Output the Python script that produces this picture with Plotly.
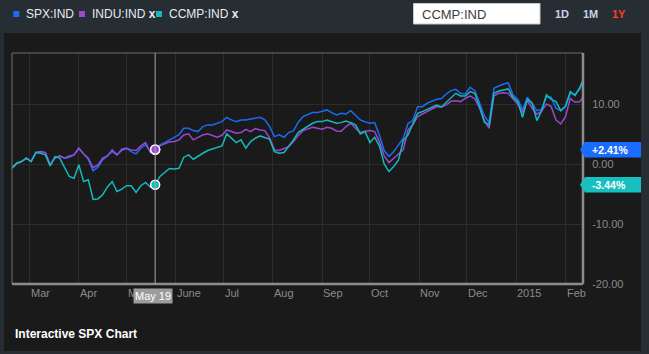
import plotly.graph_objects as go

# ---------------- data ----------------
dates = [
    "2014-02-18", "2014-02-21", "2014-02-24", "2014-02-27", "2014-03-02", "2014-03-05", "2014-03-08",
    "2014-03-11", "2014-03-14", "2014-03-17", "2014-03-20", "2014-03-23", "2014-03-26", "2014-03-29",
    "2014-04-01", "2014-04-04", "2014-04-07", "2014-04-10", "2014-04-13", "2014-04-16", "2014-04-19",
    "2014-04-22", "2014-04-25", "2014-04-28", "2014-05-01", "2014-05-04", "2014-05-07", "2014-05-10",
    "2014-05-13", "2014-05-16", "2014-05-19", "2014-05-22", "2014-05-25", "2014-05-28", "2014-05-31",
    "2014-06-03", "2014-06-06", "2014-06-09", "2014-06-12", "2014-06-15", "2014-06-18", "2014-06-21",
    "2014-06-24", "2014-06-27", "2014-06-30", "2014-07-03", "2014-07-06", "2014-07-09", "2014-07-12",
    "2014-07-15", "2014-07-18", "2014-07-21", "2014-07-24", "2014-07-27", "2014-07-30", "2014-08-02",
    "2014-08-05", "2014-08-08", "2014-08-11", "2014-08-14", "2014-08-17", "2014-08-20", "2014-08-23",
    "2014-08-26", "2014-08-29", "2014-09-01", "2014-09-04", "2014-09-07", "2014-09-10", "2014-09-13",
    "2014-09-16", "2014-09-19", "2014-09-22", "2014-09-25", "2014-09-28", "2014-10-01", "2014-10-04",
    "2014-10-07", "2014-10-10", "2014-10-13", "2014-10-16", "2014-10-19", "2014-10-22", "2014-10-25",
    "2014-10-28", "2014-10-31", "2014-11-03", "2014-11-06", "2014-11-09", "2014-11-12", "2014-11-15",
    "2014-11-18", "2014-11-21", "2014-11-24", "2014-11-27", "2014-11-30", "2014-12-03", "2014-12-06",
    "2014-12-09", "2014-12-12", "2014-12-15", "2014-12-18", "2014-12-21", "2014-12-24", "2014-12-27",
    "2014-12-30", "2015-01-02", "2015-01-05", "2015-01-08", "2015-01-11", "2015-01-14", "2015-01-17",
    "2015-01-20", "2015-01-23", "2015-01-26", "2015-01-29", "2015-02-01", "2015-02-04", "2015-02-07",
    "2015-02-10", "2015-02-12",
]

spx = [
    -0.67, 0.16, 0.44, 1.0, 0.44, 1.94, 2.1, 1.94, -0.12, 1.0, 1.38, 1.0, 1.16, 1.55, 2.6, 1.72, 0.8,
    -1.1, -0.5, 0.72, 1.38, 2.1, 1.55, 2.27, 2.66, 2.1, 1.72, 2.66, 3.22, 2.1, 2.41,
    3.21, 3.6, 4.05, 4.38, 4.94, 5.99, 5.99, 5.6, 5.44, 6.27, 6.55, 6.55, 6.82, 7.1, 7.82, 7.38, 7.1,
    7.38, 7.38, 7.49, 7.6, 7.82, 7.38, 6.27, 4.6, 4.88, 4.49, 5.27, 5.6, 7.0,
    7.94, 8.27, 8.6, 8.6, 8.77, 9.05, 8.6, 8.21, 8.49, 8.38, 8.93, 8.21, 7.38, 7.05, 6.82, 6.93, 4.88,
    2.27, 1.27, 2.1, 3.21, 4.33, 6.82, 7.27, 9.6, 9.6, 10.16, 10.49, 10.82,
    10.94, 11.71, 12.27, 12.49, 11.82, 11.71, 12.82, 12.27, 10.16, 8.05, 6.93, 12.66, 13.05, 13.38,
    13.55, 11.55, 10.82, 9.05, 11.16, 10.16, 8.93, 9.16, 11.27, 11.16, 9.33, 8.93, 9.6, 11.82, 11.66,
    12.49, 14.05,
]

indu = [
    -0.67, 0.16, 0.44, 1.0, 0.44, 1.94, 2.1, 1.94, -0.12, 1.0, 1.38, 1.0, 1.38, 1.55, 2.7, 1.72, 1.0,
    -0.6, -0.12, 1.0, 1.38, 2.38, 1.55, 2.49, 2.66, 2.38, 2.27, 3.05, 3.6, 1.94, 2.45,
    3.05, 3.38, 3.71, 3.77, 4.05, 4.88, 5.05, 4.05, 4.49, 4.88, 5.05, 4.71, 4.49, 4.82, 5.71, 5.44, 5.16,
    5.27, 5.82, 5.44, 5.93, 5.71, 5.6, 4.33, 2.38, 2.27, 2.66, 2.93, 3.77, 4.8,
    5.6, 5.88, 6.16, 5.99, 5.82, 6.16, 5.99, 5.55, 5.49, 6.27, 6.82, 5.99, 5.27, 5.49, 5.6, 5.44, 3.77,
    1.38, 0.27, 0.99, 1.71, 2.38, 5.71, 6.55, 7.94, 8.38, 8.77, 9.16, 9.6,
    9.55, 9.88, 10.49, 10.6, 10.44, 10.99, 11.38, 10.88, 9.33, 7.27, 5.99, 11.38, 11.82, 11.93, 11.82,
    10.82, 9.99, 8.6, 10.6, 9.33, 8.32, 8.88, 10.05, 9.6, 7.38, 6.71, 7.94, 10.99, 10.33, 10.44, 11.2,
]

ccmp = [
    -0.67, 0.16, 0.44, 1.0, 0.44, 1.94, 1.83, 1.55, -0.28, 1.27, 1.0, -0.5, -2.06, -2.34, -0.1, -2.9,
    -2.6, -5.9, -5.8, -5.1, -3.8, -2.9, -4.56, -4.17, -3.6, -3.6, -4.73, -3.6, -3.06, -3.84, -3.44,
    -2.06, -1.34, -0.73, -0.79, -0.68, 1.16, 1.55, 0.82, 1.38, 1.82, 2.27, 2.49, 2.82, 3.05, 5.05, 4.33,
    3.6, 4.05, 2.66, 3.77, 4.33, 4.71, 4.38, 4.16, 2.1, 1.82, 1.94, 2.93, 4.05, 5.3,
    5.82, 6.44, 6.82, 7.1, 7.1, 7.38, 7.1, 6.82, 6.93, 7.21, 6.93, 6.55, 5.05, 5.44, 3.6, 4.49, 3.05,
    0.05, -1.23, -0.4, 0.71, 3.94, 4.88, 6.55, 8.49, 8.77, 9.16, 9.44, 9.88,
    9.55, 10.27, 10.94, 11.82, 11.38, 11.38, 12.1, 11.82, 9.6, 6.99, 6.55, 11.82, 12.21, 12.38, 12.55,
    11.16, 10.44, 7.82, 10.82, 10.16, 7.27, 8.93, 11.55, 10.82, 10.44, 8.93, 9.71, 12.1, 11.44, 12.82,
    13.94,
]

series_names = ["SPX:IND", "INDU:IND", "CCMP:IND"]
month_ticks = ["2014-03-01", "2014-04-01", "2014-05-01", "2014-06-01", "2014-07-01", "2014-08-01",
               "2014-09-01", "2014-10-01", "2014-11-01", "2014-12-01", "2015-01-01", "2015-02-01"]
month_labels = ["Mar", "Apr", "May", "June", "Jul", "Aug", "Sep", "Oct", "Nov", "Dec", "2015", "Feb"]
y_ticks = [-20, -10, 0, 10]
y_labels = ["-20.00", "-10.00", "0.00", "10.00"]
cross_date = "2014-05-19"
cross_label = "May 19"
x_range = ["2014-02-18", "2015-02-12"]
y_range = [-20, 18.55]

# ---------------- style ----------------
W, H = 649, 354
L, R, T, B = 12, 583, 53, 284
C_SPX, C_INDU, C_CCMP = "#1a6cf5", "#9b47d1", "#15b9b9"
FONT = "Helvetica Neue, Helvetica, Liberation Sans, Arial, sans-serif"


def fx(px):
    return (px - L) / (R - L)


def fy(py):
    return (B - py) / (B - T)


def fv(v):
    return (v - y_range[0]) / (y_range[1] - y_range[0])


fig = go.Figure()
for name, vals, col in [(series_names[0], spx, C_SPX), (series_names[1], indu, C_INDU),
                        (series_names[2], ccmp, C_CCMP)]:
    fig.add_trace(go.Scatter(x=dates, y=vals, mode="lines", name=name,
                             line=dict(color=col, width=1.5), hoverinfo="skip"))

ci = dates.index(cross_date)
for vals, col in [(spx, C_SPX), (indu, C_INDU), (ccmp, C_CCMP)]:
    fig.add_trace(go.Scatter(x=[cross_date], y=[vals[ci]], mode="markers", hoverinfo="skip",
                             marker=dict(size=9, color=col, line=dict(color="white", width=1.5))))

shapes = [
    # dark chart panel
    dict(type="rect", xref="paper", yref="paper", x0=fx(4), x1=fx(641), y0=fy(351), y1=fy(33),
         fillcolor="#1a1a1a", line=dict(width=0), layer="below"),
    # plot frame
    dict(type="line", xref="paper", yref="paper", x0=0, x1=1, y0=1, y1=1,
         line=dict(color="#6f6f6f", width=1)),
    dict(type="line", xref="paper", yref="paper", x0=0, x1=0, y0=0, y1=1,
         line=dict(color="#6f6f6f", width=1)),
    dict(type="line", xref="paper", yref="paper", x0=0, x1=1, y0=0, y1=0,
         line=dict(color="#8c8c8c", width=2.5)),
    dict(type="line", xref="paper", yref="paper", x0=1, x1=1, y0=0, y1=1,
         line=dict(color="#8c8c8c", width=2.5)),
    # crosshair
    dict(type="line", xref="x", yref="paper", x0=cross_date, x1=cross_date, y0=0, y1=1,
         line=dict(color="#a8a8a8", width=1)),
    # search box
    dict(type="rect", xref="paper", yref="paper", x0=fx(413.5), x1=fx(540), y0=fy(24), y1=fy(3.5),
         fillcolor="white", line=dict(color="#c9c9c9", width=1)),
]

# legend squares
for px0, col in [(13.3, C_SPX), (79, C_INDU), (156, C_CCMP)]:
    shapes.append(dict(type="rect", xref="paper", yref="paper", x0=fx(px0), x1=fx(px0 + 6),
                       y0=fy(17), y1=fy(11), fillcolor=col, line=dict(width=0)))

# right value flags
flag_items = [(spx[ci], "#1a6cff"), (ccmp[ci], "#16c0c0")]
for v, col in flag_items:
    yc = fv(v)
    hh = 7.8 / (B - T)
    path = (f"M {fx(580)},{yc} L {fx(585)},{yc + hh} L {fx(641)},{yc + hh} "
            f"L {fx(641)},{yc - hh} L {fx(585)},{yc - hh} Z")
    shapes.append(dict(type="path", xref="paper", yref="paper", path=path,
                       fillcolor=col, line=dict(width=0)))

annotations = []
# x tick labels, left aligned at month boundaries
for d, lab in zip(month_ticks, month_labels):
    annotations.append(dict(x=d, xref="x", y=fy(293), yref="paper", text=lab, showarrow=False,
                            xanchor="left", yanchor="middle", xshift=-1,
                            font=dict(family=FONT, size=11, color="#8a8a8a")))
# crosshair date label
annotations.append(dict(x=cross_date, xref="x", y=fy(296), yref="paper", text=cross_label,
                        showarrow=False, xanchor="center", yanchor="middle", xshift=-2,
                        bgcolor="#9c9c9c", borderpad=1,
                        font=dict(family=FONT, size=11, color="white")))
# flag texts
for v, col in flag_items:
    annotations.append(dict(x=fx(590), xref="paper", y=fv(v), yref="paper",
                            text=f"<b>{v:+.2f}%</b>", showarrow=False, xanchor="left",
                            yanchor="middle", font=dict(family=FONT, size=10.5, color="white")))
# header legend texts
for px0, txt in [(24, series_names[0]), (90, series_names[1] + " <b>x</b>"),
                 (167, series_names[2] + " <b>x</b>")]:
    annotations.append(dict(x=fx(px0), xref="paper", y=fy(14.5), yref="paper", text=txt,
                            showarrow=False, xanchor="left", yanchor="middle",
                            font=dict(family=FONT, size=12, color="#e6ebf0")))
annotations.append(dict(x=fx(420), xref="paper", y=fy(14), yref="paper", text=series_names[2],
                        showarrow=False, xanchor="left", yanchor="middle",
                        font=dict(family=FONT, size=13, color="#3c3c3c")))
for px0, txt, col in [(553, "1D", "#c6d4e8"), (581, "1M", "#c6d4e8"), (610, "1Y", "#ff3b2b")]:
    annotations.append(dict(x=fx(px0), xref="paper", y=fy(14), yref="paper", text=f"<b>{txt}</b>",
                            showarrow=False, xanchor="left", yanchor="middle",
                            font=dict(family=FONT, size=11, color=col)))
annotations.append(dict(x=fx(13), xref="paper", y=fy(334), yref="paper",
                        text="<b>Interactive SPX Chart</b>", showarrow=False, xanchor="left",
                        yanchor="middle", font=dict(family=FONT, size=12, color="white")))

fig.update_layout(
    width=W, height=H,
    margin=dict(l=L, r=W - R, t=T, b=H - B),
    paper_bgcolor="#262d33",
    plot_bgcolor="#1a1a1a",
    showlegend=False,
    hovermode=False,
    shapes=shapes,
    annotations=annotations,
    xaxis=dict(type="date", range=x_range, tickvals=month_ticks, showticklabels=False,
               showgrid=True, gridcolor="#2c2c2c", gridwidth=1, zeroline=False, showline=False,
               fixedrange=True),
    yaxis=dict(range=y_range, side="right", tickvals=y_ticks, ticktext=y_labels,
               showgrid=True, gridcolor="#2c2c2c", gridwidth=1, zeroline=False, showline=False,
               ticks="outside", ticklen=6, tickcolor="rgba(0,0,0,0)",
               tickfont=dict(family=FONT, size=11, color="#8a8a8a"), fixedrange=True),
)

fig.write_html("out.html", config={"displayModeBar": False})
